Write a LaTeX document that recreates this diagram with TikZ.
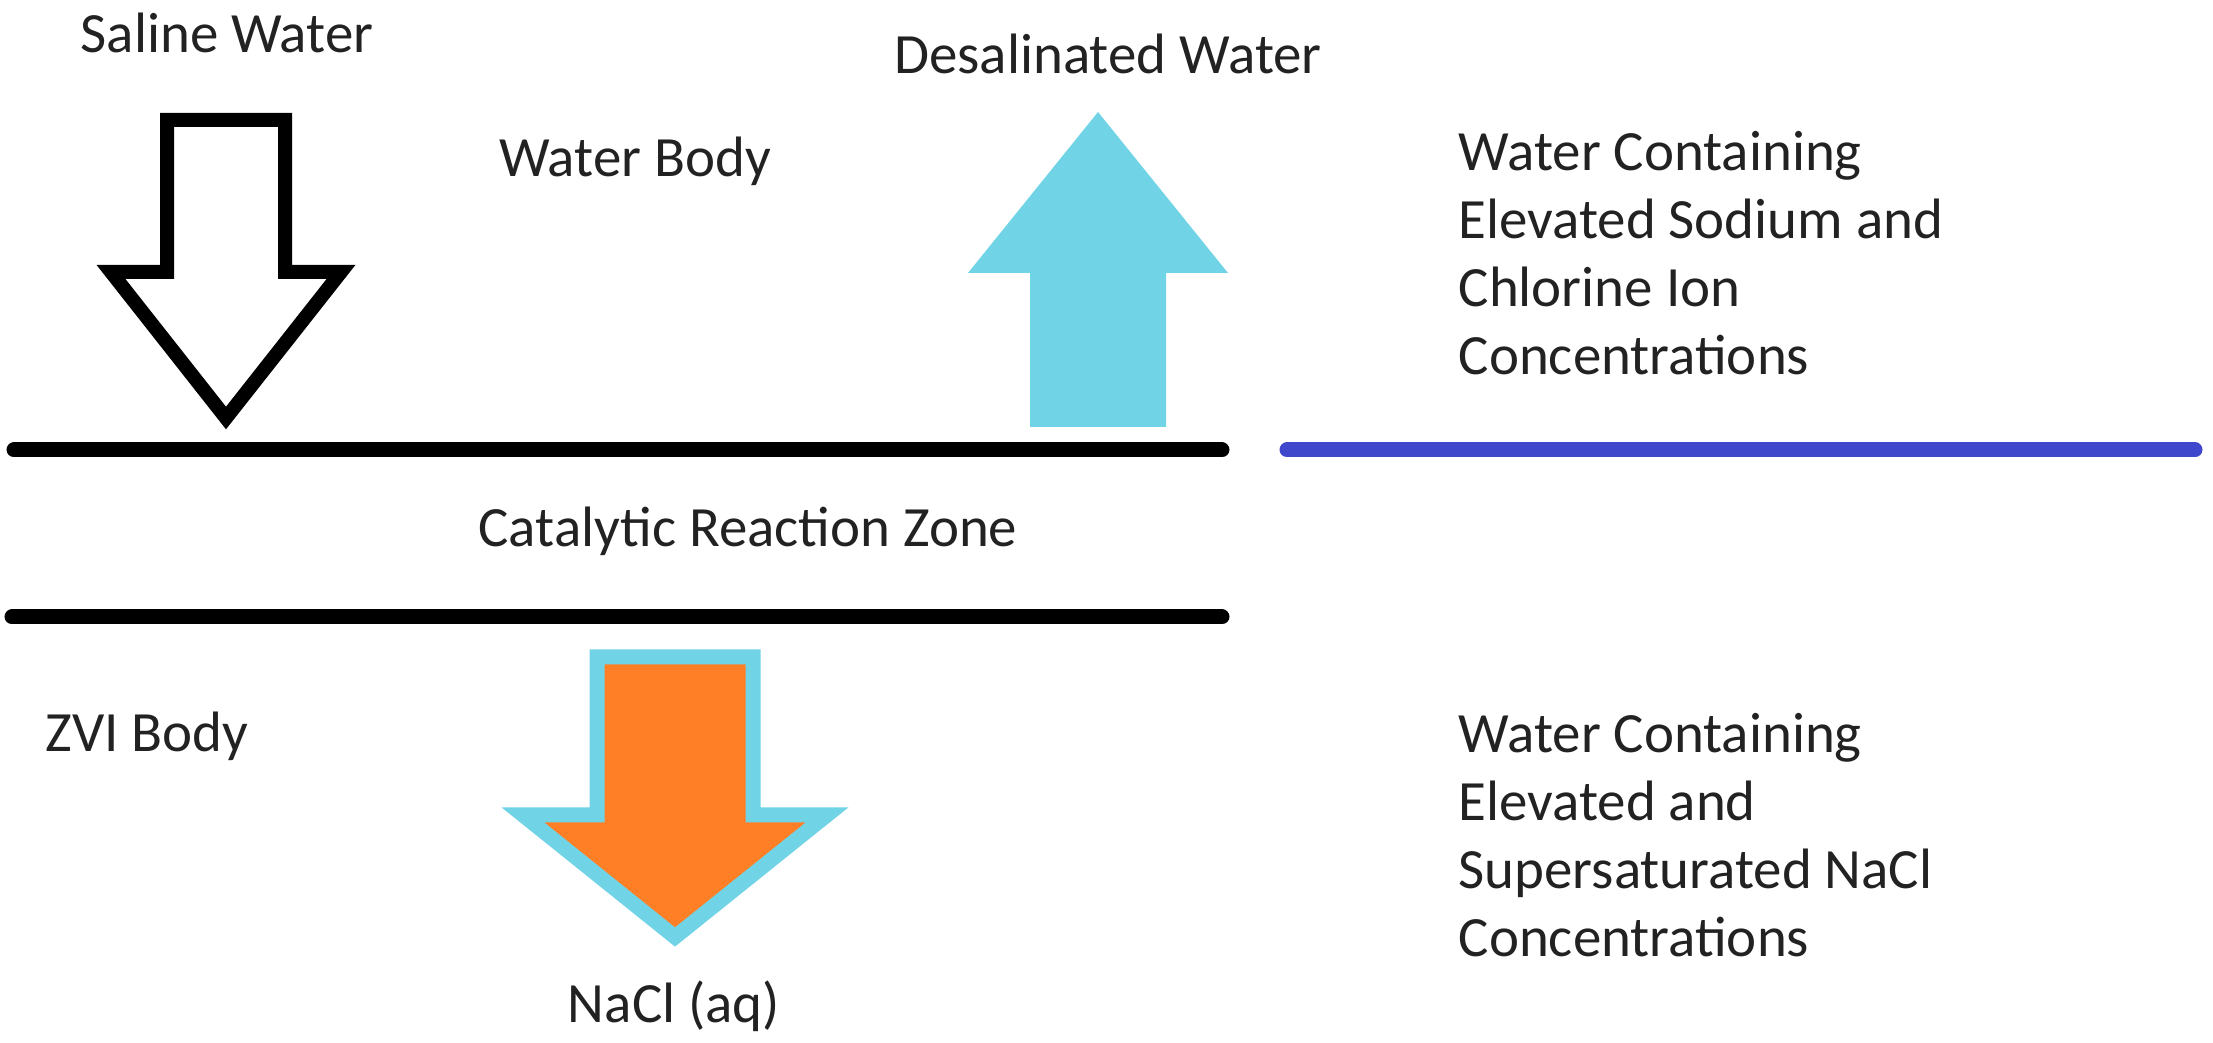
\documentclass[tikz,border=0pt]{standalone}
\usepackage{fontspec}
\setmainfont{Carlito}
\definecolor{seacyan}{RGB}{112,212,230}
\definecolor{saltorange}{RGB}{255,127,39}
\definecolor{lineblue}{RGB}{63,72,204}
\definecolor{txtgray}{RGB}{34,34,34}

\begin{document}
\begin{tikzpicture}[every node/.style={font=\fontsize{16.2pt}{19.4pt}\selectfont, text=txtgray, inner sep=0pt},
    bar/.style={line width=1.5mm, line cap=round}]
    \useasboundingbox (0,0) rectangle (22.13,-10.43);
    % water in and out
    \draw[line width=1.4mm, fill=white] (1.67,-1.20) -- (2.85,-1.20) -- (2.85,-2.72) -- (3.41,-2.72) -- (2.26,-4.18) -- (1.11,-2.72) -- (1.67,-2.72) -- cycle;
    \fill[seacyan] (10.30,-4.27) -- (10.30,-2.73) -- (9.68,-2.73) -- (10.98,-1.12) -- (12.28,-2.73) -- (11.66,-2.73) -- (11.66,-4.27) -- cycle;
    % zone boundaries
    \draw[bar] (0.14,-4.50) -- (12.22,-4.50);
    \draw[bar, lineblue] (12.87,-4.50) -- (21.95,-4.50);
    \draw[bar] (0.12,-6.17) -- (12.22,-6.17);
    % salt out
    \draw[line width=1.5mm, seacyan, fill=saltorange] (5.97,-6.57) -- (7.53,-6.57) -- (7.53,-8.15) -- (8.27,-8.15) -- (6.75,-9.37) -- (5.23,-8.15) -- (5.97,-8.15) -- cycle;
    % labels
    \node[anchor=base] (saline) at (2.27,-0.53) {Saline Water};
    \node[anchor=base] (desal) at (11.08,-0.74) {Desalinated Water};
    \node[anchor=base] (wbody) at (6.35,-1.77) {Water Body};
    \node[anchor=base] (czone) at (7.48,-5.47) {Catalytic Reaction Zone};
    \node[anchor=base west] (zvi) at (0.45,-7.52) {ZVI Body};
    \node[anchor=base] (nacl) at (6.74,-10.23) {NaCl (aq)};
    \node[anchor=base west, align=left] (ionwater) at (14.58,-3.75) {Water Containing\\Elevated Sodium and\\Chlorine Ion\\Concentrations};
    \node[anchor=base west, align=left] (saltwater) at (14.58,-9.57) {Water Containing\\Elevated and\\Supersaturated NaCl\\Concentrations};
\end{tikzpicture}
\end{document}
